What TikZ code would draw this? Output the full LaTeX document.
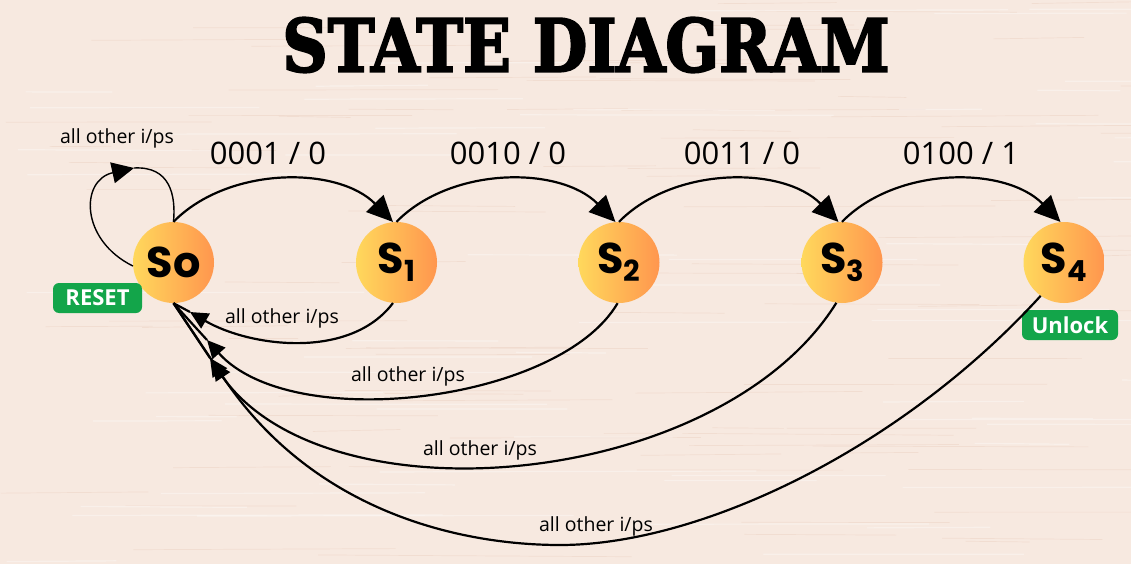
\documentclass[tikz,border=0pt]{standalone}
\usepackage{fontspec}
\setmainfont{Open Sans}
\newfontfamily\statefont{Poppins}
\newfontfamily\titlefont{DejaVu Serif Bold}[FakeBold=3]
\usetikzlibrary{arrows.meta}

\definecolor{bgwood}{RGB}{247,233,224}
\definecolor{grainA}{RGB}{214,160,132}
\definecolor{stYellow}{RGB}{255,216,92}
\definecolor{stOrange}{RGB}{255,150,78}
\definecolor{tagGreen}{RGB}{19,165,74}

\tikzset{
  stnode/.style={circle, minimum size=81pt, inner sep=0pt,
    left color=stYellow, right color=stOrange,
    font=\statefont\bfseries\fontsize{43}{43}\selectfont},
  tag/.style={rounded corners=6pt, fill=tagGreen, text=white,
    inner sep=0pt, font=\bfseries\fontsize{22}{22}\selectfont},
  fwd/.style={line width=2.2pt, -{Triangle[length=26pt,width=24pt]}},
  back/.style={line width=2.2pt, -{Triangle[length=18pt,width=17pt]}},
  backtail/.style={line width=2.2pt},
  loopline/.style={line width=1.4pt},
  codelbl/.style={font=\fontsize{31}{31}\selectfont},
  otherlbl/.style={font=\fontsize{19.5}{19.5}\selectfont, inner sep=0pt}
}
\newcommand{\stsub}[1]{\raisebox{-8pt}{\fontsize{29}{29}\selectfont #1}}

\begin{document}
\begin{tikzpicture}[x=1pt,y=-1pt]
\useasboundingbox (0,0) rectangle (1131,564);

% wooden board
\fill[bgwood] (0,0) rectangle (1131,564);
\pgfmathsetseed{11}
\foreach \i in {1,...,90}{
  \pgfmathsetmacro{\gx}{rnd*1131}
  \pgfmathsetmacro{\gy}{rnd*564}
  \pgfmathsetmacro{\gl}{60+rnd*260}
  \pgfmathsetmacro{\gd}{rnd*4-2}
  \draw[grainA, opacity=0.16, line width=0.7pt] (\gx,\gy) -- ++(\gl,\gd);
}
\foreach \i in {1,...,60}{
  \pgfmathsetmacro{\gx}{rnd*1131}
  \pgfmathsetmacro{\gy}{rnd*564}
  \pgfmathsetmacro{\gl}{80+rnd*300}
  \draw[white, opacity=0.35, line width=1.2pt] (\gx,\gy) -- ++(\gl,rnd*2-1);
}

% title
\node[inner sep=0pt] (title) at (586,45)
  {\resizebox{607pt}{54pt}{\titlefont STATE DIAGRAM}};

% states
\node[stnode] (s0) at (173.5,262.5) {So};
\node[stnode] (s1) at (396.5,262.5) {S\stsub{1}};
\node[stnode] (s2) at (619,262.5) {S\stsub{2}};
\node[stnode] (s3) at (842,262.5) {S\stsub{3}};
\node[stnode] (s4) at (1064,262.5) {S\stsub{4}};

% tags
\node[tag, minimum width=89pt, minimum height=30pt] (reset) at (97.5,298) {RESET};
\node[tag, minimum width=96pt, minimum height=30pt] (unlock) at (1070,325) {Unlock};

% forward transitions
\draw[fwd] (s0.north) .. controls +(55,-56) and +(-55,-56) .. (s1.95);
\draw[fwd] (s1.north) .. controls +(55,-56) and +(-55,-56) .. (s2.95);
\draw[fwd] (s2.north) .. controls +(55,-56) and +(-55,-56) .. (s3.95);
\draw[fwd] (s3.north) .. controls +(55,-56) and +(-55,-56) .. (s4.95);

\node[codelbl] (c01) at (268,153) {0001 / 0};
\node[codelbl] (c12) at (508,153) {0010 / 0};
\node[codelbl] (c23) at (742,153) {0011 / 0};
\node[codelbl] (c34) at (961,153) {0100 / 1};

% self loop on the reset state
\coordinate (lp) at (134,168);
\draw[loopline, -{Triangle[length=22pt,width=21pt]}] (s0.185) .. controls (80,240) and (80,180) .. (lp);
\draw[loopline] (lp) .. controls (170,166) and (176,195) .. (s0.north);
\node[otherlbl] (l00) at (117,138) {all other i/ps};

% returns to the reset state
\coordinate (p1) at (190,312);
\coordinate (p2) at (207,340);
\coordinate (p3) at (210,358);
\coordinate (p4) at (213,362);
\coordinate (b4) at (560,545);
\draw[back] (s1.265) .. controls (350,360) and (250,347) .. (p1);
\draw[backtail] (p1) -- (s0.south);
\draw[back] (s2.268) .. controls (560,402) and (292,435) .. (p2);
\draw[backtail] (p2) -- (s0.south);
\draw[back] (s3.262) .. controls (720,490) and (321,526) .. (p3);
\draw[backtail] (p3) -- (s0.south);
\draw[back] (s4.235) .. controls (900,450) and (700,545) .. (b4)
  .. controls (460,545) and (313,512) .. (p4);
\draw[backtail] (p4) -- (s0.south);

\node[otherlbl] (l10) at (282,318) {all other i/ps};
\node[otherlbl] (l20) at (408,376) {all other i/ps};
\node[otherlbl] (l30) at (480,450) {all other i/ps};
\node[otherlbl] (l40) at (596,526) {all other i/ps};
\end{tikzpicture}
\end{document}
